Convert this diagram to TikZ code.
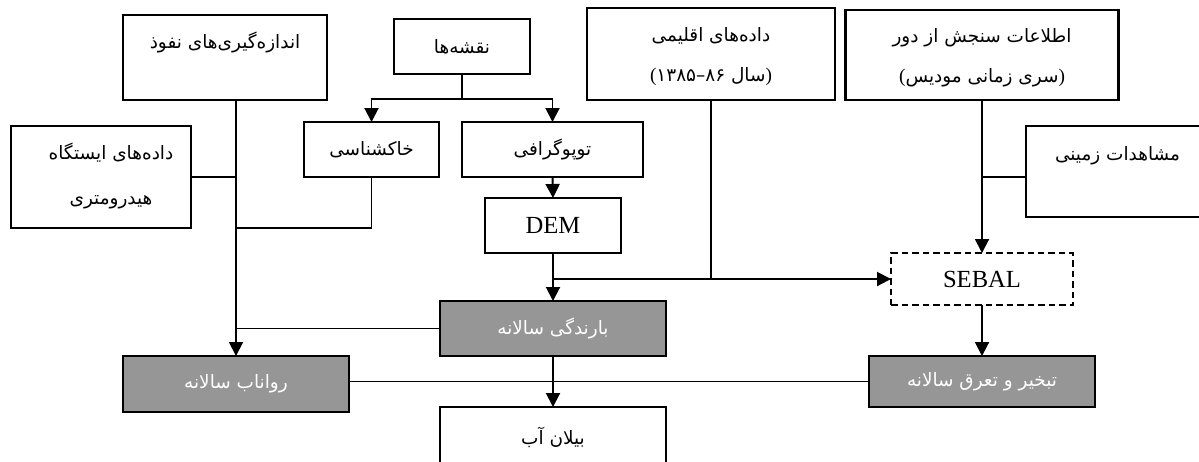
\documentclass[tikz,border=0pt]{standalone}
\usepackage{fontspec}
\setmainfont{Liberation Serif}
\newfontfamily\fa[Script=Arabic]{DejaVu Sans}
\newfontfamily\faplain{DejaVu Sans}
\TeXXeTstate=1
\usetikzlibrary{arrows.meta}
\definecolor{boxgray}{RGB}{150,150,150}
\newcommand{\mylp}{\hbox{\rmfamily\fontsize{11}{13}\selectfont(}}
\newcommand{\myrp}{\hbox{\rmfamily\fontsize{11}{13}\selectfont)}}
\begin{document}
\begin{tikzpicture}[x=0.02cm,y=-0.02cm,
  box/.style={draw, line width=1.2pt, inner sep=0pt, outer sep=0pt, fill=white},
  gbox/.style={box, fill=boxgray, text=white},
  fat/.style={font=\fa\fontsize{10.5}{22.8}\selectfont},
  lat/.style={font=\fontsize{14}{16}\selectfont},
  conn/.style={line width=1.1pt},
  arr/.style={conn, -{Triangle[width=0.28cm,length=0.28cm]}},
]
\useasboundingbox (0,0) rectangle (1199,461);
\clip (0,0) rectangle (1199,461);

% top row
\node[box, minimum width=4.08cm, minimum height=1.7cm,
  label={[fat,anchor=center,yshift=-0.54cm]north:{\beginR اندازه‌گیری‌های نفوذ\endR}}] (nofuz) at (225,57.5) {};
\node[box, fat, minimum width=2.72cm, minimum height=1.1cm] (naq) at (462,46.5) {\beginR نقشه‌ها\endR};
\node[box, minimum width=4.96cm, minimum height=1.84cm,
  label={[fat,align=center,anchor=center,yshift=-0.98cm]north:{\beginR داده‌های اقلیمی\endR\\\beginR\myrp سال \hbox{\faplain ۸۶}\hbox{\faplain –}\hbox{\faplain ۱۳۸۵}\mylp\endR}}] (eqlim) at (711,54) {};
\node[box, minimum width=5.46cm, minimum height=1.8cm,
  label={[fat,align=center,anchor=center,yshift=-0.96cm]north:{\beginR اطلاعات سنجش از دور\endR\\\beginR\myrp سری زمانی مودیس\mylp\endR}}] (etel) at (982,55) {};

% second row
\node[box, minimum width=3.6cm, minimum height=2.04cm,
  label={[fat,align=center,anchor=center,xshift=0.2cm,yshift=-1.0cm]north:{\beginR داده‌های ایستگاه\endR\\[2.8pt]\beginR هیدرومتری\endR}}] (istgah) at (101,177) {};
\node[box, fat, minimum width=2.7cm, minimum height=1.1cm] (khak) at (371.5,149.5) {\beginR خاکشناسی\endR};
\node[box, fat, minimum width=3.62cm, minimum height=1.1cm] (topo) at (552.5,149.5) {\beginR توپوگرافی\endR};
\node[box, minimum width=3.66cm, minimum height=1.82cm,
  label={[fat,anchor=center,yshift=-0.6cm]north:{\beginR مشاهدات زمینی\endR}}] (mosh) at (1117.5,171.5) {};

% middle
\node[box, lat, minimum width=2.72cm, minimum height=1.1cm] (dem) at (553,225.5) {DEM};
\node[box, lat, dashed, dash pattern=on 0.13cm off 0.08cm, minimum width=3.64cm, minimum height=1.04cm] (sebal) at (982,279) {SEBAL};

% outputs
\node[gbox, fat, minimum width=4.52cm, minimum height=1.1cm] (barand) at (553,328.5) {\beginR بارندگی سالانه\endR};
\node[gbox, fat, minimum width=4.52cm, minimum height=1.12cm] (ravan) at (236,384) {\beginR رواناب سالانه\endR};
\node[gbox, fat, minimum width=4.52cm, minimum height=1.02cm] (tabkh) at (982,381.5) {\beginR تبخیر و تعرق سالانه\endR};
\node[box, minimum width=4.52cm, minimum height=1.4cm,
  label={[fat,anchor=center,yshift=-0.6cm]north:{\beginR بیلان آب\endR}}] (bilan) at (553,442) {};

% connectors
\coordinate (j1) at (462,99);
\draw[conn] (naq.south) -- (j1);
\draw[arr] (j1) -| (khak.north);
\draw[arr] (j1) -| (topo.north);
\draw[arr] (topo.south) -- (dem.north);

\coordinate (j2) at (553,279);
\draw[arr] (dem.south) -- (barand.north);
\draw[arr] (j2) -- (sebal.west);
\draw[conn] (eqlim.south) -- (eqlim.south |- sebal.west);

\draw[arr] (etel.south) -- (sebal.north);
\draw[conn] ([yshift=-0.11cm]mosh.west) -- ([yshift=-0.11cm]mosh.west -| etel.south);
\draw[arr] (sebal.south) -- (tabkh.north);

\draw[arr] (nofuz.south -| ravan.north) -- (ravan.north);
\draw[conn] (istgah.east) -- (istgah.east -| ravan.north);
\draw[conn] (khak.south) |- (istgah.south -| ravan.north);
\draw[conn] (barand.west) -- (barand.west -| ravan.north);
\draw[arr] (barand.south) -- (bilan.north);
\draw[conn] (tabkh.west) -- (tabkh.west -| ravan.east);
\end{tikzpicture}
\end{document}
